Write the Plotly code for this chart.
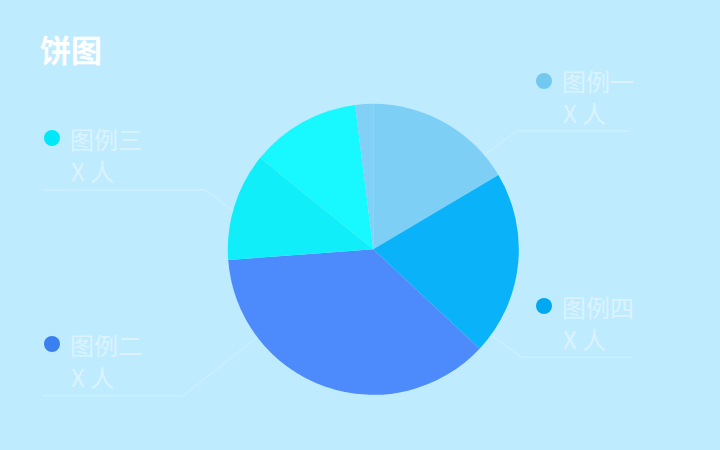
import plotly.graph_objects as go

W, H = 720, 450

# Pie data (clockwise from 12 o'clock)
slice_names = ["图例一", "图例四", "图例二", "图例三", "图例三b", "图例一b"]
slice_values = [16.5, 20.5, 36.9, 12.0, 12.2, 2.0]
slice_colors = ["#7dcff6", "#0ab2fa", "#4d8bfd", "#10eefa", "#17f9ff", "#82d0f6"]

# Legend labels
legend_names = ["图例一", "图例三", "图例二", "图例四"]
legend_values = ["X 人", "X 人", "X 人", "X 人"]
legend_colors = ["#73c8f0", "#00e8f8", "#3a80f0", "#00a8f0"]
legend_side = ["right", "left", "left", "right"]
legend_row = [0, 0, 1, 1]

BG = "#bfebff"
TXT = "rgba(255,255,255,0.45)"
LINE = "rgba(255,255,255,0.3)"

def px(x):
    return x / W

def py(y):
    return 1 - y / H

cx, cy, r = 373.3, 249.3, 145.5

fig = go.Figure()
fig.add_trace(go.Pie(
    labels=slice_names,
    values=slice_values,
    marker=dict(colors=slice_colors, line=dict(width=0)),
    sort=False,
    direction="clockwise",
    rotation=0,
    textinfo="none",
    hoverinfo="label+percent",
    showlegend=False,
    domain=dict(x=[px(cx - r), px(cx + r)], y=[py(cy + r), py(cy - r)]),
))

shapes = []
annotations = []

dot_pos = {("right", 0): (544, 81), ("left", 0): (52, 138),
           ("left", 1): (52, 344), ("right", 1): (544, 306)}
for name, val, col, side, row in zip(legend_names, legend_values, legend_colors, legend_side, legend_row):
    dx, dy = dot_pos[(side, row)]
    shapes.append(dict(type="circle", xref="paper", yref="paper",
                       x0=px(dx - 8), x1=px(dx + 8), y0=py(dy + 8), y1=py(dy - 8),
                       fillcolor=col, line=dict(width=0), layer="above"))
    annotations.append(dict(x=px(dx + 16), y=py(dy), xref="paper", yref="paper",
                            text=name, showarrow=False, xanchor="left", yanchor="middle",
                            font=dict(family="Noto Sans CJK SC", size=24, color=TXT)))
    annotations.append(dict(x=px(dx + 17), y=py(dy + 32), xref="paper", yref="paper",
                            text=val, showarrow=False, xanchor="left", yanchor="middle",
                            font=dict(family="Noto Sans CJK SC", size=24, color=TXT)))

leaders = [
    [(470, 166), (516.7, 131), (630, 131)],
    [(245, 219), (205, 190), (42, 190)],
    [(270, 327), (183.3, 395.7), (42, 395.7)],
    [(480, 327), (521.7, 357.3), (633, 357.3)],
]
for pts in leaders:
    path = "M " + " L ".join(f"{px(x)},{py(y)}" for x, y in pts)
    shapes.append(dict(type="path", xref="paper", yref="paper", path=path,
                       line=dict(color=LINE, width=1), layer="below"))

annotations.append(dict(x=px(38), y=py(48), xref="paper", yref="paper", text="<b>饼图</b>",
                        showarrow=False, xanchor="left", yanchor="middle",
                        font=dict(family="Noto Sans CJK SC", size=31, color="#ffffff")))

fig.update_layout(
    width=W, height=H,
    margin=dict(l=0, r=0, t=0, b=0),
    paper_bgcolor=BG, plot_bgcolor=BG,
    shapes=shapes, annotations=annotations,
    showlegend=False,
)

fig.write_html("out.html")
